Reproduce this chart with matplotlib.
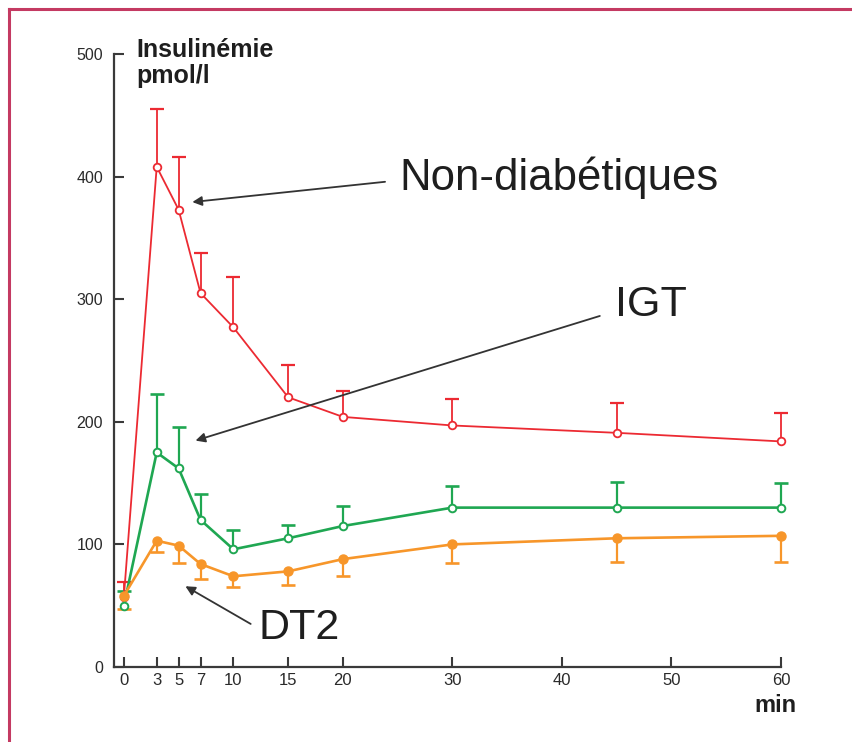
import matplotlib.pyplot as plt
from matplotlib.lines import Line2D

# Insulinemia over time (pmol/l)
minutes = [0, 3, 5, 7, 10, 15, 20, 30, 45, 60]

non_diab = [57, 408, 373, 305, 277, 220, 204, 197, 191, 184]
non_diab_sd = [12, 47, 43, 33, 41, 26, 21, 22, 24, 23]

igt = [50, 175, 162, 120, 96, 105, 115, 130, 130, 130]
igt_sd = [12, 48, 34, 21, 16, 11, 16, 18, 21, 20]

dt2 = [58, 103, 99, 84, 74, 78, 88, 100, 105, 107]
dt2_sd = [11, 9, 14, 12, 9, 11, 14, 15, 19, 21]

red = '#ec2a32'
green = '#1fa752'
orange = '#f7962a'
axis_col = '#3a3a3a'
text_col = '#1e1e1e'

plt.rcParams['font.family'] = ['Liberation Sans', 'DejaVu Sans']

fig = plt.figure(figsize=(8.53, 7.42), dpi=100)
ax = fig.add_axes([114 / 853, 1 - 667 / 742, (781 - 114) / 853, (667 - 54) / 742])


def one_sided(x, y, err, sign, color, lw):
    # error bar drawn only on one side of the mean, with a single cap
    ends = [v + sign * e for v, e in zip(y, err)]
    ax.vlines(x, y, ends, color=color, lw=lw, zorder=2, clip_on=False)
    ax.plot(x, ends, ls='none', marker='_', ms=10, mew=lw + 0.3, color=color,
            zorder=2, clip_on=False)


one_sided(minutes, non_diab, non_diab_sd, 1, red, 1.3)
one_sided(minutes, igt, igt_sd, 1, green, 1.6)
one_sided(minutes, dt2, dt2_sd, -1, orange, 1.6)

ax.plot(minutes, non_diab, color=red, lw=1.3, marker='o', ms=5.5,
        mfc='white', mec=red, mew=1.3, zorder=3, clip_on=False)
ax.plot(minutes, igt, color=green, lw=1.9, marker='o', ms=5.5,
        mfc='white', mec=green, mew=1.4, zorder=3, clip_on=False)
ax.plot(minutes, dt2, color=orange, lw=1.9, marker='o', ms=6.5,
        mfc=orange, mec=orange, zorder=3, clip_on=False)

ax.set_xlim(-0.9, 60)
ax.set_ylim(0, 500)
ax.set_xticks(minutes[:7] + [30, 40, 50, 60])
ax.set_yticks([0, 100, 200, 300, 400, 500])

for side in ['top', 'right']:
    ax.spines[side].set_visible(False)
for side in ['left', 'bottom']:
    ax.spines[side].set_color(axis_col)
    ax.spines[side].set_linewidth(1.6)

ax.tick_params(axis='x', direction='in', length=7, width=1.5, color=axis_col,
               labelsize=12, pad=4, labelcolor='#2a2a2a')
ax.tick_params(axis='y', direction='in', length=7, width=1.5, color=axis_col,
               labelsize=11.5, pad=8, labelcolor='#2a2a2a')

# axis titles
fig.text(136 / 853, 1 - 38 / 742, 'Insulinémie\npmol/l', fontsize=18,
         fontweight='bold', va='top', ha='left', color=text_col, linespacing=1.1)
fig.text(775 / 853, 1 - 705 / 742, 'min', fontsize=17, fontweight='bold',
         va='center', ha='center', color=text_col)

# group labels with arrows
arrow = dict(arrowstyle='-|>', color='#333333', lw=1.3, mutation_scale=14)
ax.annotate('', xy=(6.0, 379), xytext=(24.1, 396), arrowprops=arrow)
ax.annotate('', xy=(6.3, 184), xytext=(43.7, 287), arrowprops=arrow)
ax.annotate('', xy=(5.4, 67), xytext=(11.8, 34), arrowprops=arrow)

ax.text(25.2, 399, 'Non-diabétiques', fontsize=31.5, va='center', ha='left', color=text_col)
ax.text(44.8, 295, 'IGT', fontsize=31, va='center', ha='left', color=text_col)
ax.text(12.3, 32, 'DT2', fontsize=31, va='center', ha='left', color=text_col)

# frame around the figure (only top and left edges visible)
border = '#c43a62'
fig.add_artist(Line2D([9 / 853, 9 / 853], [0, 1 - 9 / 742], transform=fig.transFigure,
                      color=border, lw=2.2))
fig.add_artist(Line2D([9 / 853, 1], [1 - 9 / 742, 1 - 9 / 742], transform=fig.transFigure,
                      color=border, lw=2.2))

fig.savefig('out.png', dpi=100)
